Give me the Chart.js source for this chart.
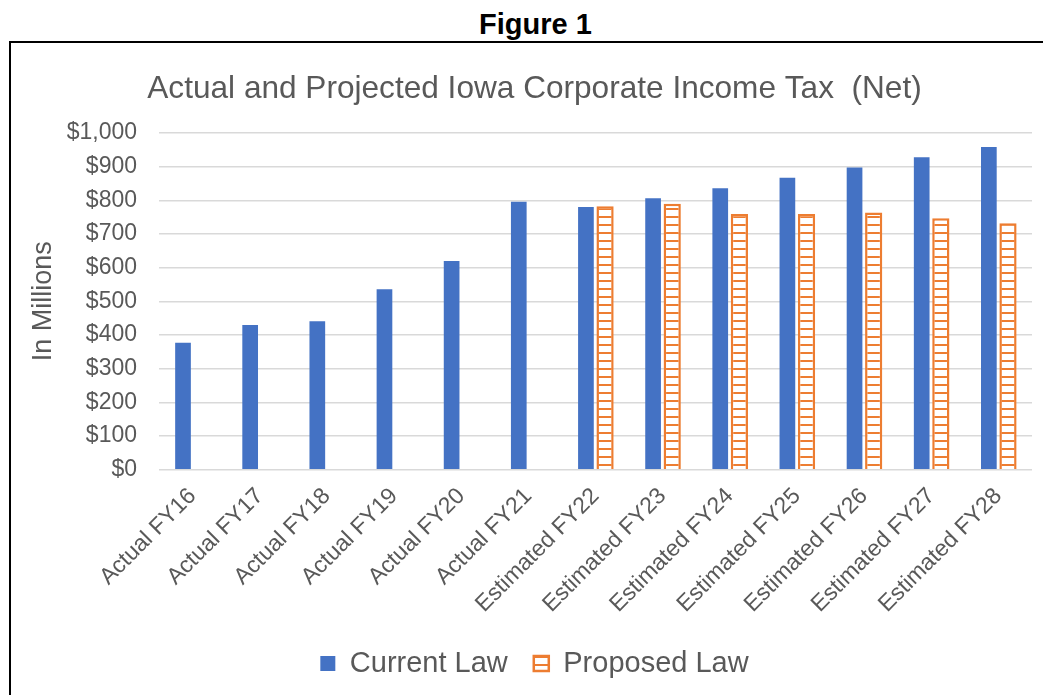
<!DOCTYPE html>
<html>
<head>
<meta charset="utf-8">
<title>Figure 1</title>
<script src="https://cdn.jsdelivr.net/npm/chart.js@4.4.1/dist/chart.umd.min.js"></script>
<style>
  html, body { margin: 0; padding: 0; background: #fff; }
  body { width: 1043px; height: 695px; position: relative; overflow: hidden; font-family: "Liberation Sans", Arial, sans-serif; }
  #figTitle { position: absolute; left: 0; width: 1071px; top: 8px; text-align: center; font-weight: bold; font-size: 29px; color: #000; }
  #frame { position: absolute; left: 9px; top: 41px; width: 1200px; height: 800px; border-left: 2px solid #000; border-top: 2px solid #000; }
  #wrap { position: absolute; left: 0; top: 0; width: 1043px; height: 695px; }
</style>
</head>
<body>
<div id="figTitle">Figure 1</div>
<div id="frame"></div>
<div id="wrap"><canvas id="taxChart"></canvas></div>
<script>
// Données (en millions de dollars)
const categories = ['Actual FY16', 'Actual FY17', 'Actual FY18', 'Actual FY19', 'Actual FY20', 'Actual FY21',
    'Estimated FY22', 'Estimated FY23', 'Estimated FY24', 'Estimated FY25', 'Estimated FY26', 'Estimated FY27', 'Estimated FY28'];
const currentLaw = [377, 430, 441, 536, 620, 796, 780, 806, 836, 867, 897, 928, 958];
const proposedLaw = [null, null, null, null, null, null, 782, 790, 759, 759, 764, 747, 732];
const yTicks = [0, 100, 200, 300, 400, 500, 600, 700, 800, 900, 1000];

const textColor = '#595959';
const blue = '#4472C4';
const orange = '#ED7D31';

// Motif à rayures horizontales pour la série "Proposed Law"
function stripePattern() {
    const c = document.createElement('canvas');
    c.width = 8;
    c.height = 8;
    const g = c.getContext('2d');
    g.fillStyle = '#ffffff';
    g.fillRect(0, 0, 8, 8);
    g.fillStyle = orange;
    g.fillRect(0, 0, 8, 2);
    return g.createPattern(c, 'repeat');
}

const ctx = document.getElementById('taxChart').getContext('2d');
new Chart(ctx, {
    type: 'bar',
    data: {
        labels: categories,
        datasets: [{
            label: 'Current Law',
            data: currentLaw,
            backgroundColor: blue,
            borderWidth: 0,
            barPercentage: 0.82
        }, {
            label: 'Proposed Law',
            data: proposedLaw,
            backgroundColor: stripePattern(),
            borderColor: orange,
            borderWidth: 2.5,
            barPercentage: 0.9
        }]
    },
    options: {
        responsive: true,
        maintainAspectRatio: false,
        animation: false,
        layout: { padding: { left: 37, right: 11, top: 0, bottom: 7 } },
        datasets: { bar: { categoryPercentage: 0.57 } },
        scales: {
            x: {
                grid: { display: false },
                border: { display: false },
                // les libellés inclinés ne doivent pas décaler la zone de tracé
                afterFit: (scale) => { scale.paddingLeft = 0; },
                ticks: {
                    color: textColor,
                    font: { family: 'Liberation Sans', size: 23 },
                    minRotation: 45,
                    maxRotation: 45,
                    padding: 5,
                    autoSkip: false
                }
            },
            y: {
                min: 0,
                max: 1000,
                afterBuildTicks: (scale) => { scale.ticks = yTicks.map(v => ({ value: v })); },
                afterFit: (scale) => { scale.width = 122; },
                grid: { color: '#d9d9d9', lineWidth: 1.5, drawTicks: false },
                border: { display: false },
                ticks: {
                    color: textColor,
                    font: { family: 'Liberation Sans', size: 23 },
                    padding: 22,
                    callback: (v) => '$' + v.toLocaleString('en-US')
                },
                title: {
                    display: true,
                    text: 'In Millions',
                    color: textColor,
                    font: { family: 'Liberation Sans', size: 27 },
                    padding: { top: -10, bottom: 4 }
                }
            }
        },
        plugins: {
            title: {
                display: true,
                text: 'Actual and Projected Iowa Corporate Income Tax  (Net)',
                color: textColor,
                font: { family: 'Liberation Sans', size: 31.6, weight: 'normal' },
                padding: { top: 70, bottom: 25 }
            },
            legend: {
                position: 'bottom',
                labels: {
                    color: textColor,
                    font: { family: 'Liberation Sans', size: 29 },
                    boxWidth: 15,
                    boxHeight: 15,
                    padding: 26
                }
            },
            tooltip: { enabled: false }
        }
    }
});
</script>
</body>
</html>
